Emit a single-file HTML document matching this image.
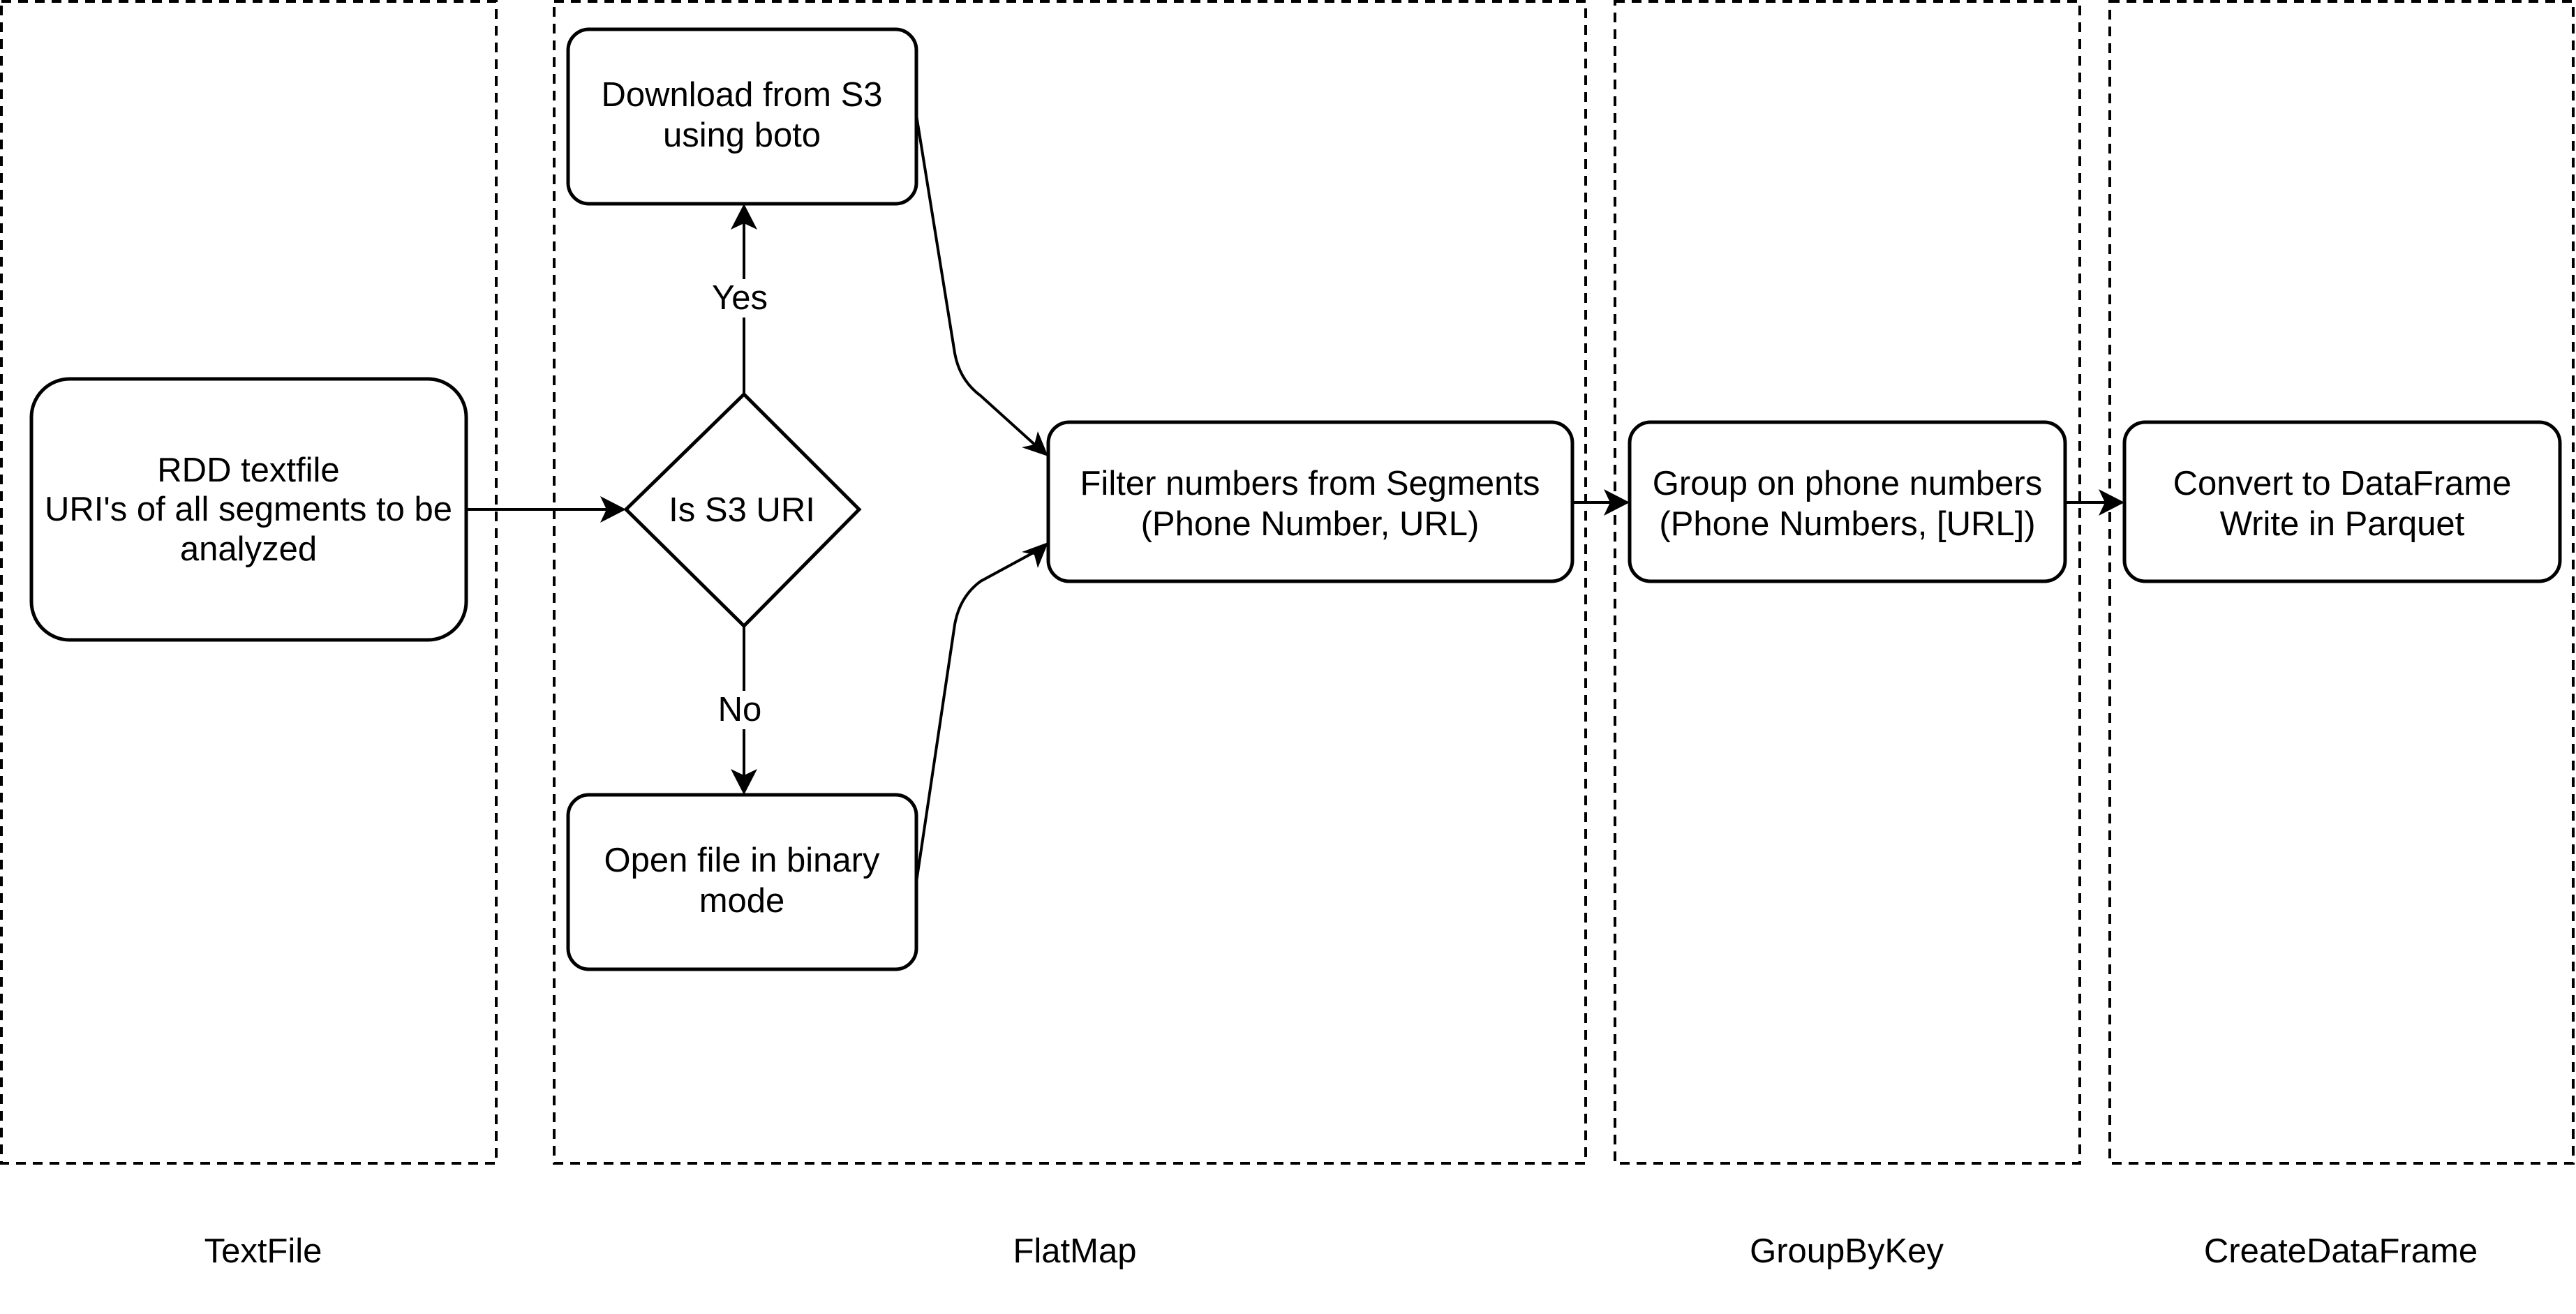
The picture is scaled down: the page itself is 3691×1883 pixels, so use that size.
<!DOCTYPE html>
<html><head><meta charset="utf-8"><style>
html,body{margin:0;padding:0;background:#fff;}
svg{display:block;}
text{font-family:"Liberation Sans",sans-serif;font-size:49px;fill:#000;text-anchor:middle;}
</style></head><body>
<svg width="3691" height="1883" viewBox="0 0 3691 1883" xmlns="http://www.w3.org/2000/svg">
<g fill="none" stroke="#000" stroke-width="4" stroke-dasharray="14,10">
<rect x="2" y="2" width="709" height="1665"/>
<rect x="794" y="2" width="1478" height="1665"/>
<rect x="2314" y="2" width="666" height="1665"/>
<rect x="3023" y="2" width="664" height="1665"/>
</g>
<g fill="#fff" stroke="#000" stroke-width="5">
<rect x="45" y="543" width="623" height="374" rx="55"/>
<rect x="814" y="42" width="499" height="250" rx="30"/>
<rect x="814" y="1139" width="499" height="250" rx="30"/>
<rect x="1502" y="605" width="751" height="228" rx="30"/>
<rect x="2335" y="605" width="624" height="228" rx="30"/>
<rect x="3044" y="605" width="624" height="228" rx="30"/>
<polygon points="1066,565 1231,730 1066,897 897,730"/>
</g>
<g fill="none" stroke="#000" stroke-width="4">
<line x1="668" y1="730" x2="880" y2="730"/>
<line x1="1066" y1="565" x2="1066" y2="455"/>
<line x1="1066" y1="400" x2="1066" y2="310"/>
<line x1="1066" y1="897" x2="1066" y2="990"/>
<line x1="1066" y1="1045" x2="1066" y2="1120"/>
<path d="M1313,165 L1368,506 Q1375,545 1405,567 L1488,642"/>
<path d="M1313,1264 L1368,895 Q1375,855 1405,833 L1488,788"/>
<line x1="2253" y1="720" x2="2318" y2="720"/>
<line x1="2959" y1="720" x2="3027" y2="720"/>
</g>
<g fill="#000">
<polygon points="897,730 860,711 869,730 860,749"/>
<polygon points="1066,292 1047,329 1066,320 1085,329"/>
<polygon points="1066,1139 1047,1102 1066,1111 1085,1102"/>
<polygon points="1502,654 1464,641 1482,637 1487,618"/>
<polygon points="1502,777 1487,814 1482,795 1464,791"/>
<polygon points="2335,720 2298,701 2307,720 2298,739"/>
<polygon points="3044,720 3007,701 3016,720 3007,739"/>
</g>
<rect x="1031" y="402" width="70" height="50" fill="#fff"/>
<rect x="1031" y="992" width="70" height="50" fill="#fff"/>
<text x="356" y="690">RDD textfile</text>
<text x="356" y="746">URI's of all segments to be</text>
<text x="356" y="803">analyzed</text>
<text x="1063" y="152">Download from S3</text>
<text x="1063" y="210">using boto</text>
<text x="1060" y="443">Yes</text>
<text x="1060" y="1033">No</text>
<text x="1063" y="747">Is S3 URI</text>
<text x="1063" y="1249">Open file in binary</text>
<text x="1063" y="1307">mode</text>
<text x="1877" y="709">Filter numbers from Segments</text>
<text x="1877" y="767">(Phone Number, URL)</text>
<text x="2647" y="709">Group on phone numbers</text>
<text x="2647" y="767">(Phone Numbers, [URL])</text>
<text x="3356" y="709">Convert to DataFrame</text>
<text x="3356" y="767">Write in Parquet</text>
<text x="377" y="1809">TextFile</text>
<text x="1540" y="1809">FlatMap</text>
<text x="2646" y="1809">GroupByKey</text>
<text x="3354" y="1809">CreateDataFrame</text>
</svg>
</body></html>
